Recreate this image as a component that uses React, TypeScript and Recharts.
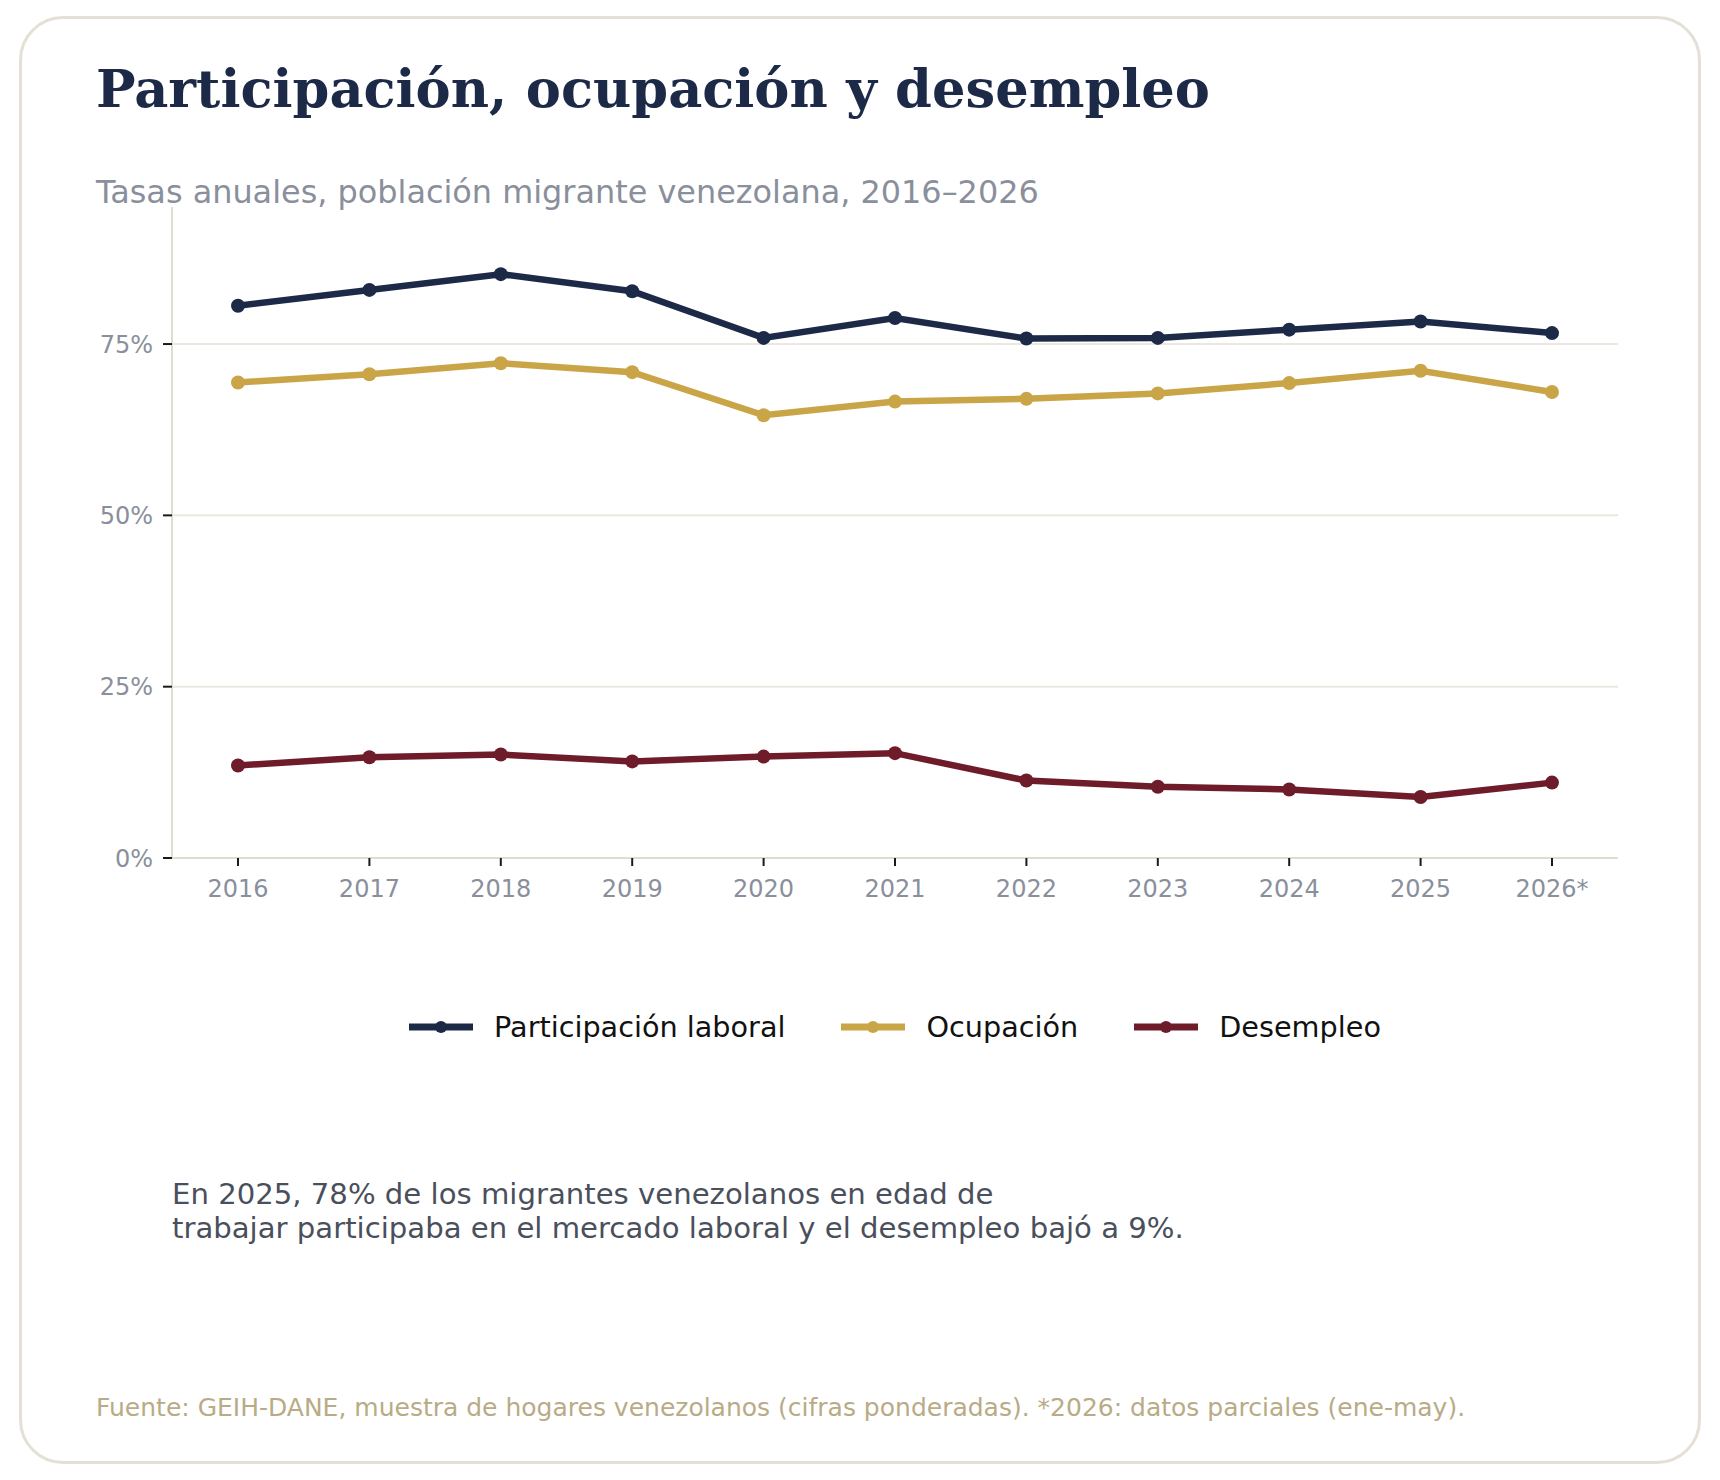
import React from "react";
import { LineChart, Line, XAxis, YAxis, CartesianGrid } from "recharts";

const years = ["2016", "2017", "2018", "2019", "2020", "2021", "2022", "2023", "2024", "2025", "2026*"];
const participacion = [80.6, 82.9, 85.2, 82.7, 75.9, 78.8, 75.8, 75.9, 77.1, 78.3, 76.6];
const ocupacion = [69.4, 70.6, 72.2, 70.9, 64.6, 66.6, 67.0, 67.8, 69.3, 71.1, 68.0];
const desempleo = [13.5, 14.7, 15.1, 14.1, 14.8, 15.3, 11.3, 10.4, 10.0, 8.9, 11.0];
const yTicks = [0, 25, 50, 75];

const series = [
  { key: "participacion", name: "Participación laboral", color: "#1c2a48" },
  { key: "ocupacion", name: "Ocupación", color: "#c9a548" },
  { key: "desempleo", name: "Desempleo", color: "#6e1c2a" },
];

const data = years.map((year, i) => ({
  year,
  participacion: participacion[i],
  ocupacion: ocupacion[i],
  desempleo: desempleo[i],
}));

const sans = "'DejaVu Sans', Verdana, sans-serif";
const serif = "'DejaVu Serif', Georgia, serif";

export default function App() {
  return (
    <div style={{ position: "absolute", left: 0, top: 0, width: 1720, height: 1480, background: "#fff" }}>
      {/* card frame */}
      <div
        style={{
          position: "absolute",
          left: 19,
          top: 16,
          width: 1682,
          height: 1448,
          boxSizing: "border-box",
          border: "3px solid #e4e0d5",
          borderRadius: 44,
        }}
      />
      <div
        style={{
          position: "absolute",
          left: 96,
          top: 63,
          fontFamily: serif,
          fontWeight: "bold",
          fontSize: 52.7,
          lineHeight: 1,
          color: "#1c2a48",
          whiteSpace: "nowrap",
        }}
      >
        Participación, ocupación y desempleo
      </div>
      <div
        style={{
          position: "absolute",
          left: 96,
          top: 177,
          fontFamily: sans,
          fontSize: 31.9,
          lineHeight: 1,
          color: "#8a8f9c",
          whiteSpace: "nowrap",
        }}
      >
        Tasas anuales, población migrante venezolana, 2016–2026
      </div>

      <div style={{ position: "absolute", left: 0, top: 0 }}>
        <LineChart
          width={1720}
          height={960}
          data={data}
          margin={{ top: 207, right: 102, bottom: 62, left: 92 }}
          style={{ fontFamily: sans }}
        >
          <CartesianGrid
            horizontal
            vertical={false}
            horizontalValues={[25, 50, 75]}
            stroke="#ebe8e1"
            strokeWidth={2}
          />
          <XAxis
            dataKey="year"
            type="category"
            interval={0}
            height={40}
            padding={{ left: 66, right: 66 }}
            axisLine={{ stroke: "#e0dccf", strokeWidth: 2 }}
            tickLine={{ stroke: "#1a1a1a", strokeWidth: 2 }}
            tickSize={8}
            tickMargin={14}
            tick={{ fill: "#8a8f9c", fontSize: 24 }}
          />
          <YAxis
            domain={[0, 95]}
            ticks={yTicks}
            width={80}
            tickFormatter={(v) => `${v}%`}
            axisLine={{ stroke: "#e0dccf", strokeWidth: 2 }}
            tickLine={{ stroke: "#1a1a1a", strokeWidth: 2 }}
            tickSize={9}
            tickMargin={10}
            tick={{ fill: "#8a8f9c", fontSize: 24 }}
          />
          {series.map((s) => (
            <Line
              key={s.key}
              type="linear"
              dataKey={s.key}
              name={s.name}
              stroke={s.color}
              strokeWidth={6.5}
              dot={{ r: 7, fill: s.color, stroke: s.color, strokeWidth: 0 }}
              activeDot={false}
              isAnimationActive={false}
            />
          ))}
        </LineChart>
      </div>

      {/* legend */}
      <div
        style={{
          position: "absolute",
          left: 172,
          width: 1446,
          top: 1007,
          height: 40,
          display: "flex",
          justifyContent: "center",
          alignItems: "center",
          fontFamily: sans,
          fontSize: 28.7,
          color: "#111",
        }}
      >
        {series.map((s, i) => (
          <div
            key={s.key}
            style={{ display: "flex", alignItems: "center", marginLeft: i === 0 ? 0 : 56, whiteSpace: "nowrap" }}
          >
            <svg width={64} height={20} style={{ marginRight: 21 }}>
              <line x1={0} y1={10} x2={64} y2={10} stroke={s.color} strokeWidth={7} />
              <circle cx={32} cy={10} r={6} fill={s.color} />
            </svg>
            <span>{s.name}</span>
          </div>
        ))}
      </div>

      <div
        style={{
          position: "absolute",
          left: 172,
          top: 1177,
          fontFamily: sans,
          fontSize: 29.15,
          lineHeight: "34px",
          color: "#4a4f5c",
          whiteSpace: "nowrap",
        }}
      >
        En 2025, 78% de los migrantes venezolanos en edad de
        <br />
        trabajar participaba en el mercado laboral y el desempleo bajó a 9%.
      </div>

      <div
        style={{
          position: "absolute",
          left: 96,
          top: 1395,
          fontFamily: sans,
          fontSize: 25,
          lineHeight: 1,
          color: "#b8ab86",
          whiteSpace: "nowrap",
        }}
      >
        Fuente: GEIH-DANE, muestra de hogares venezolanos (cifras ponderadas). *2026: datos parciales (ene-may).
      </div>
    </div>
  );
}
